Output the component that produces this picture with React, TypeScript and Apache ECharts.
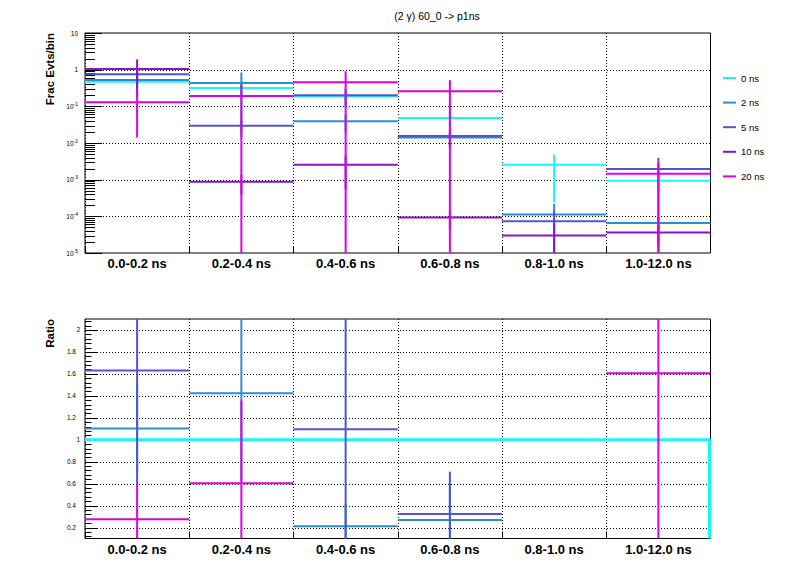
import React, { useEffect, useRef } from "react";
import * as echarts from "echarts";

const categories = ["0.0-0.2 ns", "0.2-0.4 ns", "0.4-0.6 ns", "0.6-0.8 ns", "0.8-1.0 ns", "1.0-12.0 ns"];
const seriesNames = ["0 ns", "2 ns", "5 ns", "10 ns", "20 ns"];
const seriesColors = ["#1AF5F5", "#2B8FCC", "#5254D0", "#8A14CC", "#DD00E0"];

// Top panel: fraction of events per bin (null = empty bin) and its error
const frac0 = [0.47, 0.316, 0.184, 0.0484, 0.00256, 0.00094];
const fracErr0 = [0.15, 0.15, 0.08, 0.02, 0.00232, 0.0005];
const frac2 = [0.52, 0.432, 0.0394, 0.0142, 0.000112, 0.000066];
const fracErr2 = [0.2, 0.41, 0.02, 0.007, 0.000108, 0.00003];
const frac5 = [0.745, 0.0294, 0.2, 0.0154, 0.000073, 0.00195];
const fracErr5 = [0.3, 0.015, 0.1, 0.008, 0.000068, 0.002];
const frac10 = [1.04, 0.00088, 0.00256, 0.000093, 0.00003, 0.000036];
const fracErr10 = [0.86, 0.0005, 0.002, 0.00005, 0.000029, 0.00002];
const frac20 = [0.13, 0.192, 0.452, 0.257, null, 0.00145];
const fracErr20 = [0.116, 0.195, 0.455, 0.26, null, 0.00152];

// Bottom panel: ratio to 0 ns (null = not drawn)
const ratio0 = [1, 1, 1, 1, 1, 1];
const ratio2 = [1.103, 1.424, 0.212, 0.269, null, null];
const ratioErr2 = [0.4, 0.8, 0.2, 0.3, null, null];
const ratio5 = [1.63, null, 1.096, 0.324, null, null];
const ratioErr5 = [1.04, null, 1.1, 0.385, null, null];
const ratio10: (number | null)[] = [null, null, null, null, null, null];
const ratioErr10: (number | null)[] = [null, null, null, null, null, null];
const ratio20 = [0.275, 0.603, null, null, null, 1.605];
const ratioErr20 = [0.32, 0.754, null, null, null, 1.6];

// Axis ticks
const logMajorTicks = [1e-5, 1e-4, 1e-3, 1e-2, 1e-1, 1, 10];
const logGridLines = [1e-4, 1e-3, 1e-2, 1e-1, 1];
const logMinorTicks: number[] = [];
for (let e = -5; e <= 0; e++) for (let k = 2; k <= 9; k++) logMinorTicks.push(k * Math.pow(10, e));
const ratioMajorTicks = [0.2, 0.4, 0.6, 0.8, 1, 1.2, 1.4, 1.6, 1.8, 2];
const ratioMinorTicks: number[] = [];
for (let k = 3; k <= 52; k++) ratioMinorTicks.push(+(k * 0.04).toFixed(2));

const FONT = "Liberation Sans";
const LOG_MIN = 1e-5;
const LOG_MAX = 10;
const R_MIN = 0.1;
const R_MAX = 2.1;

function rows(vals: (number | null)[], errs: (number | null)[]) {
  const out: number[][] = [];
  vals.forEach((v, i) => {
    if (v != null) out.push([i, v, errs[i] ?? 0]);
  });
  return out;
}

function errSeries(name: string, color: string, grid: number, data: number[][], yMin: number) {
  return {
    type: "custom",
    name,
    xAxisIndex: grid,
    yAxisIndex: grid,
    itemStyle: { color },
    encode: { x: 0, y: 1 },
    data,
    silent: true,
    renderItem: (params: any, api: any) => {
      const i = api.value(0);
      const v = api.value(1);
      const e = api.value(2);
      const cs = params.coordSys;
      const c = api.coord([i, v]);
      const w = api.size([1, 0])[0];
      const hi = v + e;
      const lo = Math.max(v - e, yMin);
      let yTop = api.coord([i, hi])[1];
      let yBot = api.coord([i, lo])[1];
      yTop = Math.max(yTop, cs.y);
      yBot = Math.min(yBot, cs.y + cs.height);
      const style = { stroke: color, lineWidth: 2 };
      return {
        type: "group",
        children: [
          { type: "line", shape: { x1: c[0] - w / 2, y1: c[1], x2: c[0] + w / 2, y2: c[1] }, style },
          { type: "line", shape: { x1: c[0], y1: yTop, x2: c[0], y2: yBot }, style },
        ],
      };
    },
  };
}

function decorSeries(name: string, grid: number, major: number[], minor: number[], gridVals: number[], majorLen: number, minorLen: number) {
  const data: number[][] = [];
  gridVals.forEach((v) => data.push([0, v, 2]));
  major.forEach((v) => data.push([0, v, 1]));
  minor.forEach((v) => data.push([0, v, 0]));
  return {
    type: "custom",
    name,
    xAxisIndex: grid,
    yAxisIndex: grid,
    encode: { x: 0, y: 1 },
    data,
    silent: true,
    z: 1,
    renderItem: (params: any, api: any) => {
      const v = api.value(1);
      const kind = api.value(2);
      const cs = params.coordSys;
      const y = Math.round(api.coord([0, v])[1]) + 0.5;
      if (kind === 2) {
        return {
          type: "line",
          shape: { x1: cs.x, y1: y, x2: cs.x + cs.width, y2: y },
          style: { stroke: "#000", lineWidth: 1, lineDash: [1, 2] },
        };
      }
      const len = kind === 1 ? majorLen : minorLen;
      return {
        type: "line",
        shape: { x1: cs.x, y1: y, x2: cs.x + len, y2: y },
        style: { stroke: "#000", lineWidth: 1 },
      };
    },
  };
}

export default function App() {
  const ref = useRef<HTMLDivElement>(null);
  useEffect(() => {
    if (!ref.current) return;
    const chart = echarts.init(ref.current, null, { renderer: "svg" });
    const fracVals = [frac0, frac2, frac5, frac10, frac20];
    const fracErrs = [fracErr0, fracErr2, fracErr5, fracErr10, fracErr20];
    const ratioVals = [ratio0, ratio2, ratio5, ratio10, ratio20];
    const ratioErrs = [null, ratioErr2, ratioErr5, ratioErr10, ratioErr20];

    const series: any[] = [
      decorSeries("_decorTop", 0, logMajorTicks, logMinorTicks, logGridLines, 17, 10),
      decorSeries("_decorRatio", 1, ratioMajorTicks, ratioMinorTicks, ratioMajorTicks, 12, 6.5),
    ];
    seriesNames.forEach((n, k) => {
      series.push(errSeries(n, seriesColors[k], 0, rows(fracVals[k], fracErrs[k]), LOG_MIN));
    });
    // ratio: reference line for 0 ns
    series.push({
      type: "custom",
      name: seriesNames[0],
      xAxisIndex: 1,
      yAxisIndex: 1,
      itemStyle: { color: seriesColors[0] },
      encode: { x: 0, y: 1 },
      data: rows(ratio0, ratio0.map(() => 0)),
      silent: true,
      renderItem: (params: any, api: any) => {
        const i = api.value(0);
        const v = api.value(1);
        const cs = params.coordSys;
        const c = api.coord([i, v]);
        const w = api.size([1, 0])[0];
        const style = { stroke: seriesColors[0], lineWidth: 3 };
        const children: any[] = [
          { type: "line", shape: { x1: c[0] - w / 2, y1: c[1], x2: c[0] + w / 2, y2: c[1] }, style },
        ];
        if (i === categories.length - 1) {
          children.push({ type: "line", shape: { x1: c[0] + w / 2 - 1, y1: c[1], x2: c[0] + w / 2 - 1, y2: cs.y + cs.height }, style });
        }
        return { type: "group", children };
      },
    });
    for (let k = 1; k < seriesNames.length; k++) {
      series.push(errSeries(seriesNames[k], seriesColors[k], 1, rows(ratioVals[k], ratioErrs[k] as any), -1));
    }

    const xAxisBase = (grid: number) => ({
      type: "category",
      gridIndex: grid,
      data: categories,
      boundaryGap: true,
      axisLine: { show: false },
      axisTick: { show: true, inside: true, length: 7, alignWithLabel: false, lineStyle: { color: "#000" } },
      splitLine: { show: true, interval: 0, lineStyle: { color: "#000", type: [1, 2], width: 1 } },
      axisLabel: { interval: 0, margin: 4, color: "#000", fontWeight: "bold", fontSize: 13, fontFamily: FONT },
    });

    chart.setOption({
      animation: false,
      backgroundColor: "#fff",
      grid: [
        { left: 85, right: 85.5, top: 33, height: 220, show: true, borderColor: "#000", borderWidth: 1, backgroundColor: "transparent" },
        { left: 85, right: 85.5, top: 319, height: 219.5, show: true, borderColor: "#000", borderWidth: 1, backgroundColor: "transparent" },
      ],
      xAxis: [xAxisBase(0), xAxisBase(1)],
      yAxis: [
        {
          type: "log",
          logBase: 10,
          gridIndex: 0,
          min: LOG_MIN,
          max: LOG_MAX,
          axisLine: { show: false },
          axisTick: { show: false },
          splitLine: { show: false },
          axisLabel: {
            margin: 7,
            showMinLabel: true,
            showMaxLabel: true,
            formatter: (v: number) => {
              const e = Math.round(Math.log10(v));
              if (e === 0) return "{n|1}";
              if (e === 1) return "{n|10}";
              return `{n|10}{s|${e}}`;
            },
            rich: {
              n: { fontSize: 6.5, color: "#000", fontFamily: FONT },
              s: { fontSize: 5, color: "#000", fontFamily: FONT, padding: [0, 0, 5, 0] },
            },
          },
        },
        {
          type: "value",
          gridIndex: 1,
          min: R_MIN,
          max: R_MAX,
          axisLine: { show: false },
          axisTick: { show: false },
          splitLine: { show: false },
          axisLabel: {
            margin: 5,
            customValues: ratioMajorTicks,
            formatter: (v: number) => {
              const s = String(+v.toFixed(1));
              return s.indexOf(".") >= 0 ? `{d|${s}}` : `{n|${s}}`;
            },
            rich: {
              n: { fontSize: 6.5, color: "#000", fontFamily: FONT },
              d: { fontSize: 6.5, color: "#000", fontFamily: FONT, padding: [0, 4, 0, 0] },
            },
          },
        },
      ],
      legend: {
        data: seriesNames,
        orient: "vertical",
        left: 718,
        top: 67,
        icon: "rect",
        itemWidth: 13,
        itemHeight: 2,
        itemGap: 12.6,
        selectedMode: false,
        textStyle: { fontSize: 9.5, color: "#000", fontFamily: FONT, lineHeight: 12 },
      },
      graphic: [
        {
          type: "text",
          x: 437,
          y: 16,
          style: { text: "(2 \u03b3) 60_0 -> p1ns", fontSize: 10.5, fontFamily: FONT, fill: "#000", align: "center", verticalAlign: "middle" },
        },
        {
          type: "text",
          x: 50,
          y: 33,
          rotation: Math.PI / 2,
          style: { text: "Frac Evts/bin", fontSize: 11.5, fontWeight: "bold", fontFamily: FONT, fill: "#000", align: "right", verticalAlign: "middle" },
        },
        {
          type: "text",
          x: 50,
          y: 319,
          rotation: Math.PI / 2,
          style: { text: "Ratio", fontSize: 11.5, fontWeight: "bold", fontFamily: FONT, fill: "#000", align: "right", verticalAlign: "middle" },
        },
      ],
      series,
    });
    return () => chart.dispose();
  }, []);
  return <div ref={ref} style={{ position: "absolute", left: 0, top: 0, width: 796, height: 572 }} />;
}
